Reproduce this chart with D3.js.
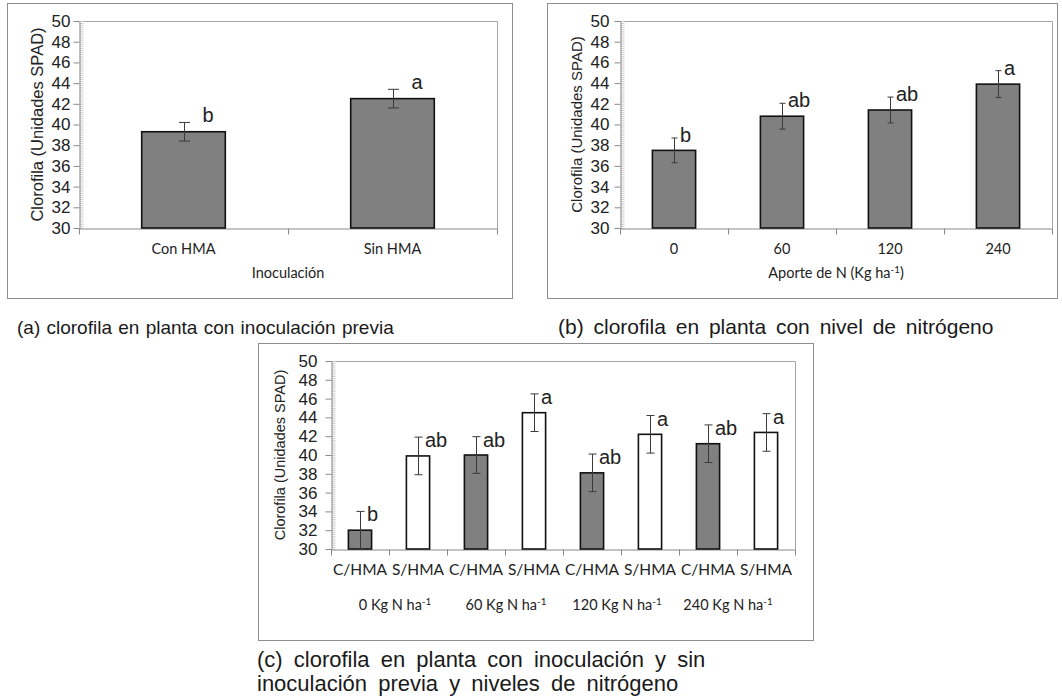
<!DOCTYPE html>
<meta charset="utf-8">
<style>
body { margin: 0; background: #fff; }
svg text { fill: #222; }
.frame { fill: none; stroke: #8e8e8e; stroke-width: 1; }
.plotbox { fill: none; stroke: #a6a6a6; stroke-width: 1; }
.yaxis path, .yaxis line, .xaxis path, .xaxis line { stroke: #8a8a8a; }
.yaxis text { font-family: "Liberation Sans", Arial, sans-serif; }
.minor line { stroke: #cfcfcf; }
.minor path { display: none; }
.bar { stroke: #111; stroke-width: 1.6; }
.err { stroke: #3a3a3a; stroke-width: 1; fill: none; }
.cat { font-family: Lato, "Open Sans", sans-serif; }
.ytitle { font-family: "Liberation Sans", Arial, sans-serif; }
.letter { font-family: "Liberation Sans", Arial, sans-serif; font-size: 20px; }
.caption { font-family: "Liberation Sans", Arial, sans-serif; fill: #1a1a1a; }
</style>
<body>
<svg width="1062" height="700"></svg>
<script src="https://cdn.jsdelivr.net/npm/d3@7"></script>
<script>

// panel (a): inoculation
var catsA = ["Con HMA", "Sin HMA"];
var valsA = [39.3, 42.5];
var errA = [0.9, 0.9];
var lettersA = ["b", "a"];

// panel (b): nitrogen level
var catsB = ["0", "60", "120", "240"];
var valsB = [37.5, 40.8, 41.4, 43.9];
var errB = [1.2, 1.25, 1.25, 1.3];
var lettersB = ["b", "ab", "ab", "a"];

// panel (c): inoculation x nitrogen
var inocC = ["C/HMA", "S/HMA"];
var levelsC = ["0", "60", "120", "240"];
var valsC = [32.0, 39.9, 40.0, 44.5, 38.1, 42.2, 41.2, 42.4];
var errC = [2.0, 2.0, 1.95, 2.0, 2.0, 2.0, 2.0, 2.0];
var lettersC = ["b", "ab", "ab", "a", "ab", "a", "ab", "a"];

var yTicks = d3.range(30, 51, 2);

var svg = d3.select("svg");

function drawPanel(cfg) {
  var g = svg.append("g");
  var p = cfg.plot;

  g.append("rect").attr("class", "frame")
      .attr("x", cfg.box[0] + 0.5).attr("y", cfg.box[1] + 0.5)
      .attr("width", cfg.box[2]).attr("height", cfg.box[3]);

  var y = d3.scaleLinear().domain([30, 50]).range([p.b, p.t]);
  var keys = cfg.cats.map(function(d, i) { return i; });
  var x = d3.scaleBand().domain(keys).range([p.l, p.r])
      .paddingInner(0.6).paddingOuter(0.3);
  var xi = d3.scaleLinear().domain([0, keys.length]).range([p.l, p.r]);

  // plot border (top/right)
  g.append("path").attr("class", "plotbox")
      .attr("d", "M" + p.l + "," + (p.t + 0.5) + "H" + (p.r + 0.5) + "V" + p.b);

  // minor ticks
  g.append("g").attr("class", "minor")
      .attr("transform", "translate(" + (p.l + 0.5) + ",0)")
      .call(d3.axisRight(y).tickValues(d3.range(30, 50.01, 0.2)).tickSize(4).tickFormat(""));

  var ya = g.append("g").attr("class", "yaxis")
      .attr("transform", "translate(" + (p.l + 0.5) + ",0)")
      .call(d3.axisLeft(y).tickValues(yTicks).tickSize(6).tickSizeOuter(0).tickPadding(cfg.tickPad));
  ya.attr("font-size", null);
  ya.selectAll("text").style("font-size", cfg.tickFont + "px").attr("fill", "#222");

  g.append("g").attr("class", "xaxis")
      .attr("transform", "translate(0," + (p.b + 0.5) + ")")
      .call(d3.axisBottom(xi).tickValues(d3.range(keys.length + 1)).tickSize(6).tickSizeOuter(0).tickFormat(""));

  // bars
  g.selectAll(".bar").data(cfg.vals).enter().append("rect")
      .attr("class", "bar")
      .attr("x", function(d, i) { return x(i); })
      .attr("width", x.bandwidth())
      .attr("y", function(d) { return y(d); })
      .attr("height", function(d) { return y(30) - y(d); })
      .attr("fill", function(d, i) { return cfg.fill(i); });

  // error bars
  g.selectAll(".err").data(cfg.vals).enter().append("path")
      .attr("class", "err")
      .attr("d", function(d, i) {
        var cx = Math.round(x(i) + x.bandwidth() / 2) + 0.5,
            hi = y(d + cfg.err[i]), lo = y(Math.max(30, d - cfg.err[i])), w = cfg.capW / 2;
        return "M" + cx + "," + hi + "V" + lo +
          "M" + (cx - w) + "," + hi + "H" + (cx + w) +
          "M" + (cx - w) + "," + lo + "H" + (cx + w);
      });

  // significance letters
  g.selectAll(".letter").data(cfg.letters).enter().append("text")
      .attr("class", "letter")
      .attr("x", function(d, i) { return x(i) + x.bandwidth() / 2 + cfg.letDx; })
      .attr("y", function(d, i) { return y(cfg.vals[i] + cfg.err[i]) + cfg.letDy; })
      .text(function(d) { return d; });

  // category labels
  g.selectAll(".cat").data(cfg.cats).enter().append("text")
      .attr("class", "cat")
      .attr("text-anchor", "middle")
      .attr("x", function(d, i) { return x(i) + x.bandwidth() / 2; })
      .attr("y", p.b + 26)
      .style("font-size", cfg.catFont + "px")
      .text(function(d) { return d; });

  g.append("text").attr("class", "ytitle")
      .attr("text-anchor", "middle")
      .attr("transform", "translate(" + cfg.titleX + "," + ((p.t + p.b) / 2) + ") rotate(-90)")
      .style("font-size", cfg.titleFont + "px")
      .text("Clorofila (Unidades SPAD)");

  return { g: g, x: x, xi: xi, y: y };
}

function supLabel(sel, main, sup, after) {
  sel.append("tspan").text(main);
  sel.append("tspan").attr("dy", -5).style("font-size", "0.68em").text(sup);
  if (after) sel.append("tspan").attr("dy", 5).text(after);
}

// (a)
var A = drawPanel({
  box: [7, 3, 505, 295], plot: { l: 79, t: 21, r: 497, b: 228 },
  cats: catsA, vals: valsA, err: errA, letters: lettersA,
  fill: function() { return "#808080"; },
  capW: 11, tickPad: 3, tickFont: 17, catFont: 14.5, titleFont: 16.5, titleX: 43,
  letDx: 19, letDy: 0
});
A.g.append("text").attr("class", "cat").attr("text-anchor", "middle")
    .attr("x", (79 + 497) / 2).attr("y", 278).style("font-size", "14.5px")
    .text("Inoculación");

// (b)
var B = drawPanel({
  box: [547, 3, 510, 295], plot: { l: 620, t: 21, r: 1052, b: 228 },
  cats: catsB, vals: valsB, err: errB, letters: lettersB,
  fill: function() { return "#808080"; },
  capW: 6, tickPad: 5, tickFont: 17, catFont: 14.5, titleFont: 15, titleX: 582,
  letDx: 6, letDy: 4
});
B.g.append("text").attr("class", "cat").attr("text-anchor", "middle")
    .attr("x", (620 + 1052) / 2).attr("y", 278).style("font-size", "14.5px")
    .call(supLabel, "Aporte de N (Kg ha", "-1", ")");

// (c)
var catsC = [];
levelsC.forEach(function(l) { inocC.forEach(function(c) { catsC.push(c); }); });
var C = drawPanel({
  box: [258, 343, 555, 297], plot: { l: 331, t: 361, r: 795, b: 549 },
  cats: catsC, vals: valsC, err: errC, letters: lettersC,
  fill: function(i) { return i % 2 === 0 ? "#808080" : "#ffffff"; },
  capW: 8, tickPad: 8, tickFont: 17, catFont: 15.5, titleFont: 14.5, titleX: 285,
  letDx: 7, letDy: 10
});
C.g.selectAll(".grp").data(levelsC).enter().append("text")
    .attr("class", "cat grp").attr("text-anchor", "middle")
    .attr("x", function(d, i) { return C.xi(i * 2 + 1) + 6 - 5 * i; })
    .attr("y", 610).style("font-size", "14.5px")
    .each(function(d) { d3.select(this).call(supLabel, d + " Kg N ha", "-1"); });

// captions
function caption(txt, x, y, size, ws) {
  svg.append("text").attr("class", "caption").attr("x", x).attr("y", y)
      .style("font-size", size + "px").style("word-spacing", ws + "px")
      .text(txt);
}
caption("(a) clorofila en planta con inoculación previa", 17, 334, 19, 1);
caption("(b) clorofila en planta con nivel de nitrógeno", 558, 334, 21, 4);
caption("(c) clorofila en planta con inoculación y sin", 257, 667, 22, 5);
caption("inoculación previa y niveles de nitrógeno", 257, 691, 22, 5);

</script>
</body>
